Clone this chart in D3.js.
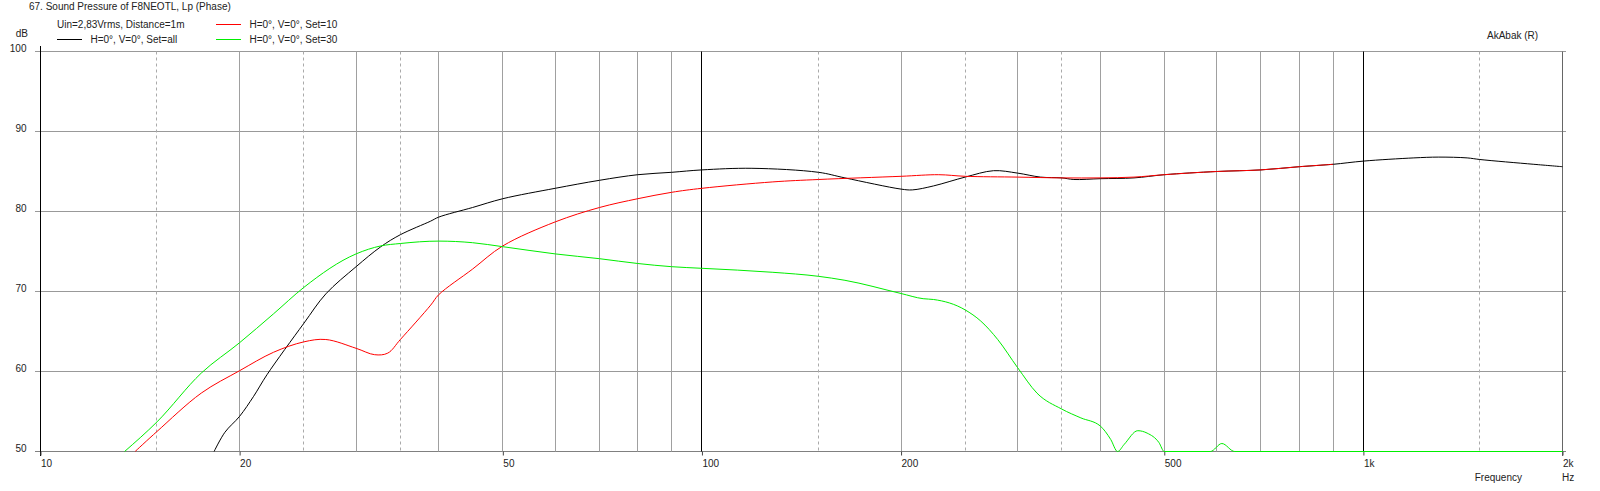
<!DOCTYPE html>
<html>
<head>
<meta charset="utf-8">
<script src="https://cdn.jsdelivr.net/npm/d3@7"></script>
<style>
  html, body { margin: 0; padding: 0; background: #fff; }
  svg { display: block; }
  text { font-family: "Liberation Sans", Arial, sans-serif; font-size: 10px; fill: #222; }
</style>
</head>
<body>
<svg id="chart" width="1600" height="491"></svg>
<script>
// ---------- data ----------
const title = "67. Sound Pressure of F8NEOTL, Lp (Phase)";
const subtitle = "Uin=2,83Vrms, Distance=1m";
const seriesNames = ["H=0°, V=0°, Set=all", "H=0°, V=0°, Set=10", "H=0°, V=0°, Set=30"];

const yTicks = [50, 60, 70, 80, 90, 100];
const xTickValues = [10, 20, 50, 100, 200, 500, 1000, 2000];
const xTickLabels = ["10", "20", "50", "100", "200", "500", "1k", "2k"];
const gridSolid = [20, 30, 40, 50, 60, 70, 80, 90, 200, 300, 400, 500, 600, 700, 800, 900];
const gridBold = [100, 1000];
const gridDashed = [15, 25, 35, 150, 250, 350, 1500];

// Set=all (black)
const freqAll = [18.3, 19, 20, 21, 22, 25, 27, 30, 32.7, 35, 38.9, 40, 45, 50, 60, 70, 80, 90, 100, 119, 150, 164.5, 200, 208, 224, 250, 276, 300, 325, 350, 365, 400, 450, 500, 600, 700, 800, 900, 1000, 1192, 1300, 1435, 1500, 1810, 2000];
const dbAll   = [50, 52.4, 54.4, 56.9, 59.6, 66.0, 69.7, 73.1, 75.6, 77.1, 78.8, 79.3, 80.5, 81.6, 82.9, 83.9, 84.6, 84.9, 85.2, 85.4, 84.9, 84.2, 82.8, 82.7, 83.2, 84.3, 85.1, 84.8, 84.3, 84.2, 84.0, 84.1, 84.2, 84.6, 85.0, 85.2, 85.6, 85.9, 86.3, 86.7, 86.8, 86.7, 86.5, 85.9, 85.6];

// Set=10 (red)
const freq10 = [13.9, 15, 17.5, 20, 22.5, 25, 27, 30, 32, 33.5, 35, 38.9, 40, 45, 50, 60, 70, 80, 90, 100, 128, 150, 200, 228, 250, 300, 350, 400, 450, 500, 600, 700, 800, 900];
const db10   = [50, 52.5, 57.3, 60.1, 62.4, 63.7, 64.0, 62.9, 62.1, 62.3, 64.0, 68.3, 69.6, 72.8, 75.7, 78.7, 80.5, 81.6, 82.4, 82.9, 83.7, 84.0, 84.4, 84.6, 84.4, 84.3, 84.2, 84.2, 84.3, 84.6, 85.0, 85.2, 85.6, 85.9];

// Set=30 (green)
const freq30 = [13.4, 15, 17.5, 20, 22.5, 25, 30, 32.7, 35, 40, 45, 50, 60, 70, 80, 90, 100, 128, 150, 164.5, 200, 216, 224, 250, 264, 280, 300, 321, 350, 374, 400, 415, 425, 435, 456, 471, 491, 500, 587, 611, 639, 2000];
const db30   = [50, 53.7, 59.8, 63.6, 67.2, 70.5, 74.7, 75.7, 76.0, 76.3, 76.1, 75.6, 74.7, 74.1, 73.5, 73.1, 72.9, 72.4, 71.9, 71.4, 69.75, 69.1, 69.0, 67.7, 66.3, 64.0, 60.5, 57.3, 55.3, 54.2, 53.2, 51.5, 50, 50.9, 52.6, 52.3, 51.1, 50, 50, 51, 50, 50];

const seriesColors = ["#000000", "#ff0000", "#00ee00"];

// ---------- chart ----------
const svg = d3.select("#chart");
const x = d3.scaleLog().domain([10, 2000]).range([40.5, 1562.5]);
const y = d3.scaleLinear().domain([50, 100]).range([451.5, 51.5]).clamp(true);
const px = f => Math.round(x(f) - 0.5) + 0.5;

const grid = svg.append("g");
grid.selectAll("line.h").data(yTicks).enter().append("line")
  .attr("x1", 35).attr("x2", 1566)
  .attr("y1", d => y(d)).attr("y2", d => y(d))
  .attr("stroke", d => d === 50 ? "#808080" : "#999").attr("stroke-width", 1);
grid.selectAll("line.vs").data(gridSolid).enter().append("line")
  .attr("x1", px).attr("x2", px).attr("y1", y(100)).attr("y2", y(50))
  .attr("stroke", "#a0a0a0");
grid.selectAll("line.vd").data(gridDashed).enter().append("line")
  .attr("x1", px).attr("x2", px).attr("y1", y(100)).attr("y2", y(50))
  .attr("stroke", "#aaa").attr("stroke-dasharray", "3,3");
grid.selectAll("line.vb").data(gridBold).enter().append("line")
  .attr("x1", px).attr("x2", px).attr("y1", y(100)).attr("y2", y(50))
  .attr("stroke", "#000");
grid.append("line").attr("x1", px(2000)).attr("x2", px(2000)).attr("y1", y(100)).attr("y2", 456).attr("stroke", "#666");
grid.append("line").attr("x1", px(10)).attr("x2", px(10)).attr("y1", 46).attr("y2", 456).attr("stroke", "#000");

const xAxis = d3.axisBottom(x).tickValues(xTickValues)
  .tickFormat((d, i) => xTickLabels[i]).tickSize(4).tickPadding(5);
const xg = svg.append("g").attr("transform", `translate(0,${y(50)})`).call(xAxis);
xg.select(".domain").remove();
xg.selectAll(".tick line").attr("stroke", "#444");
xg.selectAll(".tick text").attr("text-anchor", "start").attr("x", 0).attr("y", 8)
  .attr("dy", "0.71em")
  .style("font-family", '"Liberation Sans", Arial, sans-serif').style("font-size", "10px").attr("fill", "#222");

const yAxis = d3.axisLeft(y).tickValues(yTicks).tickSize(0).tickPadding(14);
const yg = svg.append("g").attr("transform", `translate(${px(10)},0)`).call(yAxis);
yg.select(".domain").remove();
yg.selectAll(".tick text").attr("dy", "-0.05em")
  .style("font-family", '"Liberation Sans", Arial, sans-serif').style("font-size", "10px").attr("fill", "#222");

const smooth = d3.line().x(d => x(d[0])).y(d => y(d[1])).curve(d3.curveCatmullRom.alpha(0.5));
const mono = d3.line().x(d => x(d[0])).y(d => y(d[1])).curve(d3.curveMonotoneX);
const series = [
  { pts: d3.zip(freqAll, dbAll), gen: smooth },
  { pts: d3.zip(freq10, db10), gen: smooth },
  { pts: d3.zip(freq30, db30), gen: mono }
];
svg.append("g").selectAll("path").data(series).enter().append("path")
  .attr("d", d => d.gen(d.pts)).attr("fill", "none")
  .attr("stroke", (d, i) => seriesColors[i]).attr("stroke-width", 1);

svg.append("text").attr("x", 29).attr("y", 10).text(title);
svg.append("text").attr("x", 57).attr("y", 27.5).text(subtitle);
svg.append("text").attr("x", 28).attr("y", 37).attr("text-anchor", "end").text("dB");
svg.append("text").attr("x", 1487).attr("y", 38.5).text("AkAbak (R)");
svg.append("text").attr("x", 1522).attr("y", 480.5).attr("text-anchor", "end").text("Frequency");
svg.append("text").attr("x", 1562).attr("y", 480.5).text("Hz");

const legend = [
  { lx: 57, ly: 39.5, tx: 90.5, ty: 42.5, i: 0 },
  { lx: 216, ly: 24.5, tx: 249.5, ty: 27.5, i: 1 },
  { lx: 216, ly: 39.5, tx: 249.5, ty: 42.5, i: 2 }
];
const lg = svg.append("g");
legend.forEach(d => {
  lg.append("line").attr("x1", d.lx).attr("x2", d.lx + 25).attr("y1", d.ly).attr("y2", d.ly)
    .attr("stroke", seriesColors[d.i]).attr("stroke-width", 1);
  lg.append("text").attr("x", d.tx).attr("y", d.ty).text(seriesNames[d.i]);
});
</script>
</body>
</html>
